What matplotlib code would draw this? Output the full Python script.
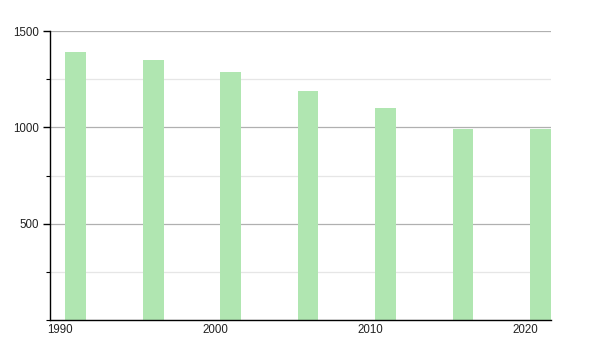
import matplotlib
matplotlib.use("Agg")
import matplotlib.pyplot as plt
from matplotlib.ticker import MultipleLocator

years = [1991, 1996, 2001, 2006, 2011, 2016, 2021]
population = [1390, 1352, 1285, 1187, 1100, 990, 990]
xticks = [1990, 2000, 2010, 2020]
yticks = [500, 1000, 1500]

fig = plt.figure(figsize=(6, 3.5), dpi=100)
ax = fig.add_axes([50/600, 30/350, 501/600, 289/350])

ax.bar(years, population, width=1.35, color="#b0e6b1", zorder=2)

ax.set_xlim(1989.35, 2021.68)
ax.set_ylim(0, 1500)
ax.set_xticks(xticks)
ax.set_xticklabels([str(t) for t in xticks], fontsize=8.3, family="Liberation Sans", color="#222222")
ax.set_yticks(yticks)
ax.set_yticklabels([str(t) for t in yticks], fontsize=8.3, family="Liberation Sans", color="#222222")
ax.yaxis.set_minor_locator(MultipleLocator(250))

ax.grid(axis="y", which="major", color="#b0b0b0", linewidth=0.9, zorder=0)
ax.grid(axis="y", which="minor", color="#e6e6e6", linewidth=0.9, zorder=0)

for s in ["top", "right"]:
    ax.spines[s].set_visible(False)
ax.spines["left"].set_linewidth(1.0)
ax.spines["bottom"].set_linewidth(1.0)

ax.tick_params(axis="y", which="major", length=5, width=1, pad=3)
ax.tick_params(axis="y", which="minor", length=3, width=0.8)
ax.tick_params(axis="x", which="major", length=0, pad=3)

fig.savefig("out.png", dpi=100)
